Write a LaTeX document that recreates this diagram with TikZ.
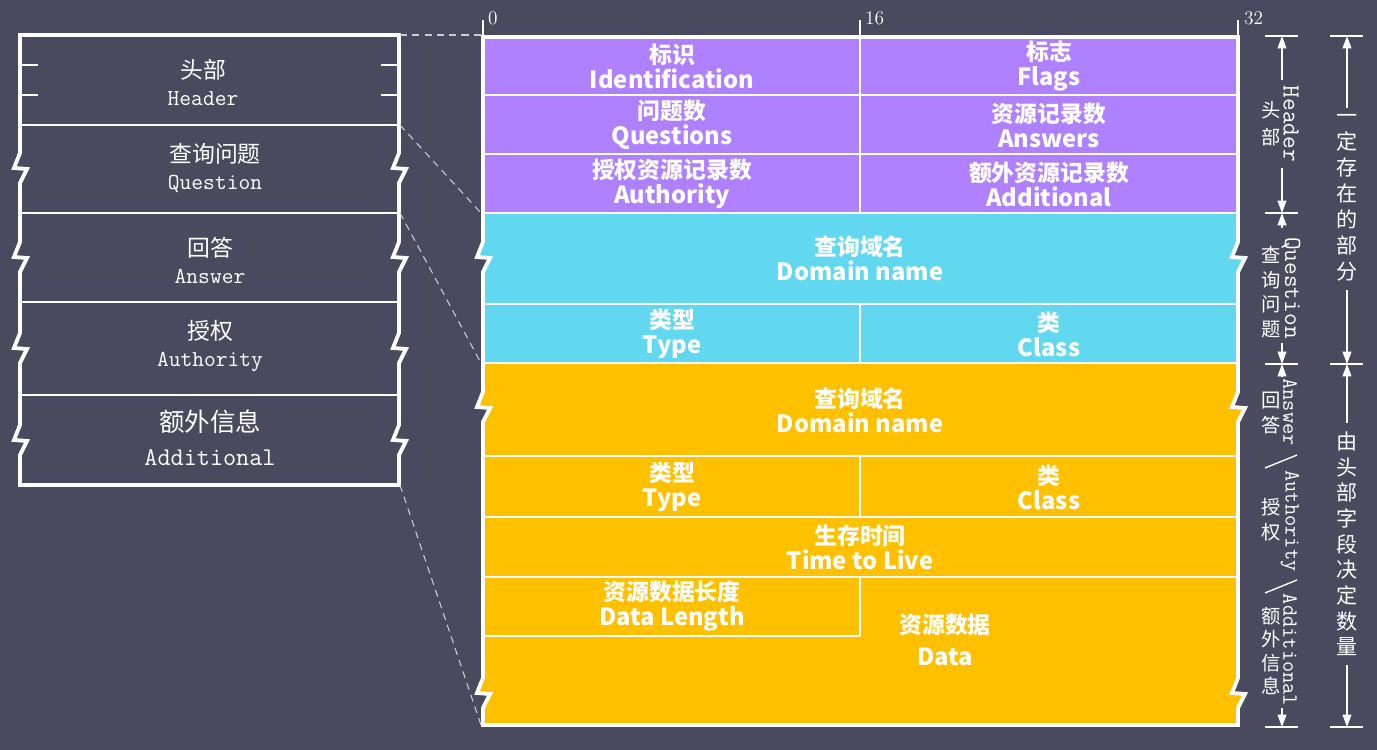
\documentclass[tikz,border=0pt]{standalone}
\usepackage{fontspec}
\usetikzlibrary{arrows.meta}
\newfontfamily\cjk{Noto Sans CJK SC}
\definecolor{bgc}{RGB}{74,74,94}
\definecolor{hdc}{RGB}{175,128,255}
\definecolor{qsc}{RGB}{98,216,240}
\definecolor{rrc}{RGB}{255,192,0}
\definecolor{gdc}{RGB}{205,205,210}
% 断开处的折线（向下 / 向上）
\newcommand{\zigD}[2]{-- (#1,#2-15) -- (#1-6,#2) -- (#1+7,#2+1) -- (#1,#2+15)}
\newcommand{\zigU}[2]{-- (#1,#2+15) -- (#1+7,#2+1) -- (#1-6,#2) -- (#1,#2-15)}
\newcommand{\pktxt}[2]{#1\\{\fontsize{13.5}{14.2}\selectfont #2}}
\newcommand{\lbtxt}[2]{#1\\{\ttfamily #2}}
\tikzset{
  boxedge/.style={white, line width=2.2pt},
  divline/.style={white, line width=0.8pt},
  guide/.style={gdc, line width=0.6pt, dash pattern=on 4pt off 3pt},
  cell/.style={text=white, align=center, inner sep=0pt, font={\cjk\bfseries\fontsize{13}{14.2}\selectfont}},
  lbox/.style={text=white, align=center, inner sep=0pt, font={\cjk\fontsize{13}{15.4}\selectfont}},
  dim/.style={white, line width=0.8pt, -{Triangle[length=7pt,width=5pt]}},
  vtxt/.style={text=white, rotate=-90, inner sep=0pt, font={\ttfamily\fontsize{12.4}{14}\selectfont}},
  stk/.style={text=white, align=center, inner sep=0pt, font={\cjk\fontsize{11}{14}\selectfont}},
  bitno/.style={text=white, anchor=west, inner sep=1pt, font=\fontsize{11}{11}\selectfont},
}
\begin{document}
\begin{tikzpicture}[x=0.02cm, y=-0.02cm]
  \def\pL{483}
  \def\pR{1238}
  \def\pM{860}
  \def\cA{1282}
  \def\cB{1347}
  \def\pktpath{(\pL,37) -- (\pR,37) \zigD{\pR}{257} \zigD{\pR}{407} \zigD{\pR}{693} -- (\pR,725) -- (\pL,725) \zigU{\pL}{693} \zigU{\pL}{407} \zigU{\pL}{257} -- cycle}
  \useasboundingbox (0,0) rectangle (1377,750);
  \fill[bgc] (0,0) rectangle (1377,750);

  % 左侧：报文整体
  \foreach \y in {125,213,302,395} \draw[divline] (20,\y) -- (399,\y);
  \foreach \y in {65,95} {
    \draw[divline, line width=1.1pt] (20,\y) -- (38,\y);
    \draw[divline, line width=1.1pt] (381,\y) -- (399,\y);
  }
  \draw[boxedge] (20,35) -- (399,35) \zigD{399}{168} \zigD{399}{257} \zigD{399}{348} \zigD{399}{440} -- (399,485) -- (20,485) \zigU{20}{440} \zigU{20}{348} \zigU{20}{257} \zigU{20}{168} -- cycle;
  \node[lbox] (lhd) at (203,82) {\lbtxt{头部}{Header}};
  \node[lbox] (lqs) at (215,168) {\lbtxt{查询问题}{Question}};
  \node[lbox] (lan) at (210,260) {\lbtxt{回答}{Answer}};
  \node[lbox] (lau) at (210,346) {\lbtxt{授权}{Authority}};
  \node[lbox, font={\cjk\fontsize{14.5}{19.3}\selectfont}] (lad) at (210,438) {\lbtxt{额外信息}{Additional}};

  % 右侧：报文格式
  \begin{scope}
    \clip \pktpath;
    \fill[hdc] (470,37) rectangle (1260,213);
    \fill[qsc] (470,213) rectangle (1260,363);
    \fill[rrc] (470,363) rectangle (1260,730);
  \end{scope}
  \foreach \y in {95,154,213,304,363,456,517,577} \draw[divline] (\pL,\y) -- (\pR,\y);
  \draw[divline] (\pL,636) -- (\pM,636);
  \draw[divline] (\pM,37) -- (\pM,213);
  \draw[divline] (\pM,304) -- (\pM,363);
  \draw[divline] (\pM,456) -- (\pM,517);
  \draw[divline] (\pM,577) -- (\pM,636);
  \draw[boxedge] \pktpath;

  \node[cell] (ident) at (672,66) {\pktxt{标识}{Identification}};
  \node[cell] (flags) at (1049,66) {\pktxt{标志}{Flags}};
  \node[cell] (qdcnt) at (672,125) {\pktxt{问题数}{Questions}};
  \node[cell] (ancnt) at (1049,125) {\pktxt{资源记录数}{Answers}};
  \node[cell] (nscnt) at (672,184) {\pktxt{授权资源记录数}{Authority}};
  \node[cell] (arcnt) at (1049,184) {\pktxt{额外资源记录数}{Additional}};
  \node[cell] (qname) at (\pM,258) {\pktxt{查询域名}{Domain name}};
  \node[cell] (qtype) at (672,334) {\pktxt{类型}{Type}};
  \node[cell] (qclass) at (1049,334) {\pktxt{类}{Class}};
  \node[cell] (rname) at (\pM,410) {\pktxt{查询域名}{Domain name}};
  \node[cell] (rtype) at (672,487) {\pktxt{类型}{Type}};
  \node[cell] (rclass) at (1049,487) {\pktxt{类}{Class}};
  \node[cell] (rttl) at (\pM,547) {\pktxt{生存时间}{Time to Live}};
  \node[cell] (rdlen) at (672,606) {\pktxt{资源数据长度}{Data Length}};
  \node[cell, font={\cjk\bfseries\fontsize{13}{18.2}\selectfont}] (rdata) at (945,640) {\pktxt{资源数据}{Data}};

  % 位刻度
  \draw[divline] (\pL,20) -- (\pL,36);
  \draw[divline] (\pM,20) -- (\pM,36);
  \draw[divline] (\pR,20) -- (\pR,36);
  \node[bitno] (b0) at (\pL+3,18) {0};
  \node[bitno] (b16) at (\pM+3,18) {16};
  \node[bitno] (b32) at (\pR+4,18) {32};

  % 虚线对应
  \draw[guide] (400,35) -- (481,35);
  \draw[guide] (400,125) -- (481,213);
  \draw[guide] (400,213) -- (481,363);
  \draw[guide] (400,485) -- (481,725);

  % 尺寸标注
  \foreach \y in {36,213,364,727} \draw[divline] (1265,\y) -- (1298,\y);
  \foreach \y in {36,364,727} \draw[divline] (1330,\y) -- (1363,\y);
  \coordinate (hT) at (\cA,36);
  \coordinate (hA) at (\cA,80);
  \coordinate (hB) at (\cA,168);
  \coordinate (qT) at (\cA,213);
  \coordinate (qA) at (\cA,228);
  \coordinate (qB) at (\cA,343);
  \coordinate (rT) at (\cA,364);
  \coordinate (rA) at (\cA,377);
  \coordinate (rB) at (\cA,708);
  \coordinate (rE) at (\cA,727);
  \draw[dim] (hA) -- (hT);
  \draw[dim] (hB) -- (qT);
  \draw[dim] (qA) -- (qT);
  \draw[dim] (qB) -- (rT);
  \draw[dim] (rA) -- (rT);
  \draw[dim] (rB) -- (rE);
  \node[vtxt, font={\ttfamily\fontsize{14}{14}\selectfont}] (vhd) at (1291,124) {Header};
  \node[stk, font={\cjk\fontsize{11}{15.3}\selectfont}] (shd) at (1271,124) {头\\部};
  \node[vtxt, font={\ttfamily\fontsize{14}{14}\selectfont}] (vqs) at (1291,288) {Question};
  \node[stk] (sqs) at (1271,292) {查\\询\\问\\题};
  \node[vtxt] (van) at (1290,412) {Answer};
  \node[stk] (san) at (1271,413) {回\\答};
  \node[vtxt] (vau) at (1290,521) {Authority};
  \node[stk] (sau) at (1271,520) {授\\权};
  \node[vtxt] (vad) at (1290,650) {Additional};
  \node[stk, font={\cjk\fontsize{11}{13.2}\selectfont}] (sad) at (1271,651) {额\\外\\信\\息};
  \draw[divline] (1265,468) -- (1297,455);
  \draw[divline] (1265,593) -- (1297,580);

  \coordinate (aT) at (\cB,36);
  \coordinate (aA) at (\cB,108);
  \coordinate (aB) at (\cB,290);
  \coordinate (aM) at (\cB,364);
  \coordinate (aC) at (\cB,423);
  \coordinate (aD) at (\cB,665);
  \coordinate (aE) at (\cB,727);
  \draw[dim] (aA) -- (aT);
  \draw[dim] (aB) -- (aM);
  \draw[dim] (aC) -- (aM);
  \draw[dim] (aD) -- (aE);
  \node[stk, font={\cjk\fontsize{12}{14.8}\selectfont}] (fixd) at (\cB,198) {一\\定\\存\\在\\的\\部\\分};
  \node[stk, font={\cjk\fontsize{12}{14.6}\selectfont}] (vard) at (\cB,544) {由\\头\\部\\字\\段\\决\\定\\数\\量};
\end{tikzpicture}
\end{document}
